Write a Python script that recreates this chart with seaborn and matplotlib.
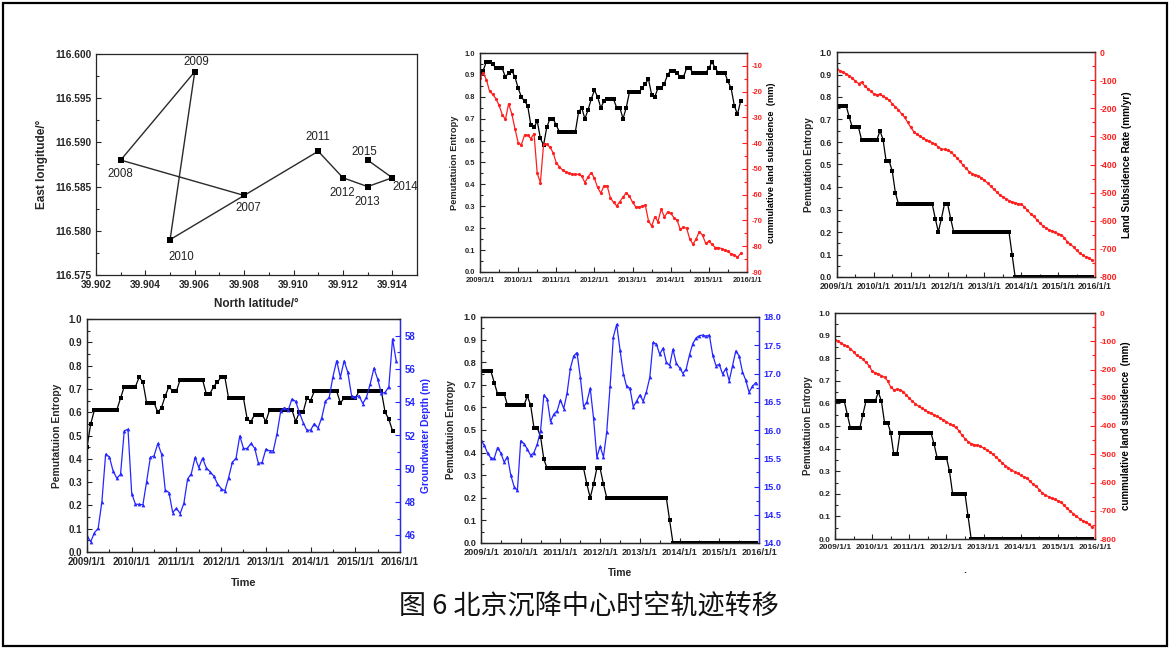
import numpy as np
import pandas as pd
import matplotlib
matplotlib.use("Agg")
import matplotlib.pyplot as plt
from matplotlib.patches import Rectangle
from matplotlib.ticker import MultipleLocator, FormatStrFormatter
import seaborn as sns

# ---------------------------------------------------------------- data
# subsidence-centre trajectory (one point per year)
traj_years = ["2007", "2008", "2009", "2010", "2011", "2012", "2013", "2014", "2015"]
traj_lat = [39.908, 39.903, 39.906, 39.905, 39.911, 39.912, 39.913, 39.914, 39.913]
traj_lon = [116.584, 116.588, 116.598, 116.579, 116.589, 116.586, 116.585, 116.586, 116.588]

year_ticks = ["2009/1/1", "2010/1/1", "2011/1/1", "2012/1/1",
              "2013/1/1", "2014/1/1", "2015/1/1", "2016/1/1"]

# permutation entropy vs cumulative subsidence (monthly, from 2009/1)
pe_cum_a = [0.91, 0.92, 0.96, 0.96, 0.95, 0.93, 0.93, 0.93, 0.89, 0.91,
            0.92, 0.89, 0.84, 0.80, 0.78, 0.76, 0.67, 0.66, 0.69, 0.61,
            0.58, 0.66, 0.70, 0.70, 0.67, 0.64, 0.64, 0.64, 0.64, 0.64,
            0.64, 0.73, 0.75, 0.70, 0.74, 0.79, 0.83, 0.80, 0.75, 0.78,
            0.79, 0.79, 0.79, 0.75, 0.75, 0.70, 0.75, 0.82, 0.82, 0.82,
            0.82, 0.84, 0.86, 0.88, 0.81, 0.80, 0.84, 0.84, 0.86, 0.90,
            0.92, 0.92, 0.91, 0.89, 0.89, 0.93, 0.93, 0.91, 0.91, 0.91,
            0.91, 0.91, 0.93, 0.96, 0.93, 0.91, 0.91, 0.91, 0.87, 0.84,
            0.76, 0.72, 0.78]
sub_cum_a = [-14.7, -12.7, -15.3, -19.8, -21.1, -22.7, -25.3, -28.9, -30.8, -24.7,
             -28.6, -34.4, -39.8, -40.7, -36.9, -36.9, -38.2, -36.3, -51.7, -55.3,
             -40.5, -40.5, -41.5, -43.7, -47.6, -49.2, -50.5, -51.2, -51.7, -52.0,
             -52.1, -52.1, -52.7, -55.3, -53.1, -51.4, -53.6, -57.2, -59.4, -56.6,
             -56.6, -61.1, -63.0, -64.3, -62.7, -60.9, -59.3, -60.5, -63.0, -64.7,
             -64.7, -64.5, -64.0, -70.1, -72.2, -68.6, -70.4, -65.6, -68.6, -66.8,
             -67.2, -68.9, -69.9, -73.4, -72.7, -73.0, -77.2, -79.2, -77.2, -74.3,
             -75.7, -78.9, -78.1, -79.2, -80.5, -80.5, -80.9, -81.5, -82.0, -83.0,
             -83.3, -84.3, -82.8]

# permutation entropy vs subsidence rate
pe_rate = [0.76, 0.76, 0.76, 0.76, 0.71, 0.665, 0.665, 0.665, 0.61, 0.61,
           0.61, 0.61, 0.61, 0.61, 0.65, 0.61, 0.515, 0.515, 0.47, 0.375,
           0.325, 0.325, 0.325, 0.325, 0.325, 0.325, 0.325, 0.325, 0.325, 0.325,
           0.325, 0.325, 0.26, 0.20, 0.26, 0.325, 0.325, 0.26, 0.20, 0.20,
           0.20, 0.20, 0.20, 0.20, 0.20, 0.20, 0.20, 0.20, 0.20, 0.20,
           0.20, 0.20, 0.20, 0.20, 0.20, 0.20, 0.20, 0.10, 0.0, 0.0,
           0.0, 0.0, 0.0, 0.0, 0.0, 0.0, 0.0, 0.0, 0.0, 0.0,
           0.0, 0.0, 0.0, 0.0, 0.0, 0.0, 0.0, 0.0, 0.0, 0.0,
           0.0, 0.0, 0.0, 0.0]
sub_rate = [-62, -66, -72, -78, -84, -93, -104, -112, -108, -120,
            -130, -140, -148, -152, -150, -158, -163, -172, -184, -195,
            -205, -220, -232, -250, -268, -283, -292, -300, -306, -312,
            -318, -322, -328, -338, -345, -346, -350, -356, -365, -376,
            -388, -402, -414, -425, -432, -437, -440, -447, -456, -466,
            -477, -487, -498, -508, -515, -522, -528, -533, -536, -539,
            -542, -550, -563, -575, -584, -596, -608, -618, -626, -632,
            -637, -641, -646, -650, -660, -675, -684, -693, -705, -715,
            -722, -729, -731, -740]

# permutation entropy vs groundwater depth (well A)
pe_gw_a = [0.45, 0.55, 0.61, 0.61, 0.61, 0.61, 0.61, 0.61, 0.61, 0.66,
           0.71, 0.71, 0.71, 0.71, 0.75, 0.73, 0.64, 0.64, 0.64, 0.60,
           0.62, 0.67, 0.71, 0.69, 0.69, 0.74, 0.74, 0.74, 0.74, 0.74,
           0.74, 0.74, 0.68, 0.68, 0.71, 0.73, 0.75, 0.75, 0.66, 0.66,
           0.66, 0.66, 0.66, 0.57, 0.56, 0.59, 0.59, 0.59, 0.56, 0.61,
           0.61, 0.61, 0.61, 0.61, 0.61, 0.61, 0.56, 0.60, 0.60, 0.66,
           0.65, 0.69, 0.69, 0.69, 0.69, 0.69, 0.69, 0.69, 0.64, 0.66,
           0.66, 0.66, 0.66, 0.69, 0.69, 0.69, 0.69, 0.69, 0.69, 0.69,
           0.60, 0.57, 0.52]
gw_depth_a = [45.96, 45.62, 46.16, 46.42, 48.03, 50.88, 50.72, 49.87, 49.43, 49.67,
              52.28, 52.38, 48.51, 47.87, 47.87, 47.83, 49.23, 50.68, 50.78, 51.52,
              50.88, 48.73, 48.57, 47.37, 47.63, 47.31, 47.93, 49.39, 49.71, 50.68,
              50.07, 50.64, 50.07, 49.83, 49.57, 49.11, 48.81, 48.67, 49.47, 50.38,
              50.64, 51.98, 51.22, 51.22, 51.52, 51.24, 50.32, 50.38, 51.18, 51.08,
              51.08, 52.12, 53.48, 53.68, 53.52, 54.19, 54.05, 53.38, 52.78, 52.32,
              52.32, 52.72, 52.44, 53.08, 54.05, 54.29, 55.53, 56.49, 55.49, 56.49,
              55.79, 54.39, 54.29, 54.39, 53.92, 54.29, 55.09, 56.05, 55.39, 54.53,
              54.59, 54.93, 57.80, 56.45]

# permutation entropy vs groundwater depth (well B)
pe_gw_b = [0.76, 0.76, 0.76, 0.76, 0.71, 0.66, 0.66, 0.66, 0.61, 0.61,
           0.61, 0.61, 0.61, 0.61, 0.65, 0.61, 0.51, 0.51, 0.47, 0.37,
           0.33, 0.33, 0.33, 0.33, 0.33, 0.33, 0.33, 0.33, 0.33, 0.33,
           0.33, 0.33, 0.26, 0.20, 0.26, 0.33, 0.33, 0.26, 0.20, 0.20,
           0.20, 0.20, 0.20, 0.20, 0.20, 0.20, 0.20, 0.20, 0.20, 0.20,
           0.20, 0.20, 0.20, 0.20, 0.20, 0.20, 0.20, 0.10, 0.0, 0.0,
           0.0, 0.0, 0.0, 0.0, 0.0, 0.0, 0.0, 0.0, 0.0, 0.0,
           0.0, 0.0, 0.0, 0.0, 0.0, 0.0, 0.0, 0.0, 0.0, 0.0,
           0.0, 0.0, 0.0, 0.0]
gw_depth_b = [15.82, 15.73, 15.59, 15.50, 15.50, 15.69, 15.59, 15.43, 15.53, 15.20,
              15.00, 14.93, 15.81, 15.76, 15.66, 15.55, 15.60, 15.75, 15.99, 16.62,
              16.55, 16.15, 16.28, 16.34, 16.53, 16.38, 16.65, 17.09, 17.31, 17.37,
              16.94, 16.41, 16.50, 16.74, 16.21, 15.52, 15.71, 15.52, 15.97, 16.77,
              17.65, 17.87, 17.42, 17.00, 16.77, 16.74, 16.41, 16.51, 16.62, 16.51,
              16.68, 16.93, 17.55, 17.52, 17.34, 17.45, 17.20, 17.14, 17.43, 17.18,
              17.10, 17.00, 17.08, 17.33, 17.53, 17.63, 17.67, 17.68, 17.66, 17.68,
              17.33, 17.14, 17.16, 16.99, 17.09, 16.87, 17.14, 17.40, 17.31, 17.03,
              16.88, 16.67, 16.77, 16.84]

# permutation entropy vs cumulative subsidence (second point)
pe_cum_b = [0.61, 0.61, 0.61, 0.61, 0.55, 0.49, 0.49, 0.49, 0.49, 0.55,
            0.61, 0.61, 0.61, 0.61, 0.65, 0.61, 0.515, 0.515, 0.47, 0.375,
            0.375, 0.47, 0.47, 0.47, 0.47, 0.47, 0.47, 0.47, 0.47, 0.47,
            0.47, 0.47, 0.42, 0.36, 0.36, 0.36, 0.36, 0.30, 0.20, 0.20,
            0.20, 0.20, 0.20, 0.10, 0.0, 0.0, 0.0, 0.0, 0.0, 0.0,
            0.0, 0.0, 0.0, 0.0, 0.0, 0.0, 0.0, 0.0, 0.0, 0.0,
            0.0, 0.0, 0.0, 0.0, 0.0, 0.0, 0.0, 0.0, 0.0, 0.0,
            0.0, 0.0, 0.0, 0.0, 0.0, 0.0, 0.0, 0.0, 0.0, 0.0,
            0.0, 0.0, 0.0, 0.0]
sub_cum_b = [-94, -100, -107, -113, -118, -126, -138, -150, -155, -163,
             -175, -186, -206, -212, -215, -222, -228, -240, -262, -272,
             -270, -272, -278, -290, -302, -312, -322, -330, -337, -343,
             -350, -355, -360, -366, -372, -378, -385, -392, -398, -405,
             -416, -432, -445, -455, -462, -466, -468, -472, -478, -485,
             -492, -500, -510, -520, -530, -540, -548, -555, -562, -568,
             -575, -580, -584, -596, -606, -614, -625, -638, -645, -650,
             -656, -660, -664, -670, -680, -692, -702, -710, -720, -728,
             -735, -740, -748, -757]

# ---------------------------------------------------------------- style
sns.set_style("ticks")
plt.rcParams["font.family"] = ["Liberation Sans", "DejaVu Sans"]
plt.rcParams["axes.unicode_minus"] = False
plt.rcParams["axes.linewidth"] = 0.9

RED = "#ff1f1f"
BLUE = "#2626ff"
W, H = 1169, 648

fig = plt.figure(figsize=(W / 100, H / 100), dpi=100)
fig.patch.set_facecolor("white")


def box(x0, y0, x1, y1):
    """Axes rectangle from pixel edges (top-left origin)."""
    return [x0 / W, 1 - y1 / H, (x1 - x0) / W, (y1 - y0) / H]


def style_ticks(ax, size):
    ax.tick_params(which="both", direction="in", labelsize=size, width=0.8)
    ax.tick_params(which="major", length=3.5)
    ax.tick_params(which="minor", length=2)
    for lab in ax.get_xticklabels() + ax.get_yticklabels():
        lab.set_fontweight("bold")


# ---------------------------------------------------------------- trajectory
ax1 = fig.add_axes(box(96, 54, 417, 275))
traj = pd.DataFrame({"lat": traj_lat, "lon": traj_lon, "year": traj_years})
# path in chronological order, every yearly centre kept as its own vertex
sns.lineplot(data=traj, x="lat", y="lon", sort=False, estimator=None, ax=ax1,
             color="#2a2a2a", linewidth=1.0, marker="s", markersize=4.2,
             markerfacecolor="black", markeredgecolor="black", markeredgewidth=0)
offsets = {"2007": (4, -13), "2008": (0, -14), "2009": (2, 10), "2010": (11, -17),
           "2011": (0, 14), "2012": (-1, -15), "2013": (0, -15), "2014": (13, -9),
           "2015": (-3, 8)}
for la, lo, yr in zip(traj_lat, traj_lon, traj_years):
    ax1.annotate(yr, (la, lo), xytext=offsets[yr], textcoords="offset pixels",
                 ha="center", va="center", fontsize=8.3, color="#222222")
ax1.set_xlim(39.902, 39.915)
ax1.set_ylim(116.575, 116.600)
ax1.xaxis.set_major_locator(MultipleLocator(0.002))
ax1.xaxis.set_minor_locator(MultipleLocator(0.001))
ax1.yaxis.set_major_locator(MultipleLocator(0.005))
ax1.yaxis.set_minor_locator(MultipleLocator(0.0025))
ax1.xaxis.set_major_formatter(FormatStrFormatter("%.3f"))
ax1.yaxis.set_major_formatter(FormatStrFormatter("%.3f"))
ax1.set_xlabel("North latitude/°", fontsize=8.5, fontweight="bold", labelpad=6)
ax1.set_ylabel("East longitude/°", fontsize=8.5, fontweight="bold", labelpad=5)
style_ticks(ax1, 7.3)


# ---------------------------------------------------------------- time panels
def time_panel(rect, pe, other, color, marker, msize, rlim, rmajor, rminor, rfmt,
               left_label, right_label, xlabel, tsize, lsize, lpad, rpad, xpad):
    ax = fig.add_axes(rect)
    months = np.arange(len(pe))
    sns.lineplot(x=months, y=pe, ax=ax, color="black", linewidth=0.9,
                 marker="s", markersize=2.7, markerfacecolor="black",
                 markeredgecolor="black", markeredgewidth=0)
    ax.set_xlim(0, 84)
    ax.set_ylim(0, 1.0)
    ax.set_xticks(np.arange(0, 85, 12))
    ax.set_xticklabels(year_ticks)
    ax.xaxis.set_minor_locator(MultipleLocator(6))
    ax.yaxis.set_major_locator(MultipleLocator(0.1))
    ax.yaxis.set_minor_locator(MultipleLocator(0.05))
    ax.yaxis.set_major_formatter(FormatStrFormatter("%.1f"))
    ax.set_ylabel(left_label, fontsize=lsize, fontweight="bold", labelpad=lpad)
    if xlabel:
        ax.set_xlabel(xlabel, fontsize=lsize + 0.5, fontweight="bold", labelpad=xpad)
    else:
        ax.set_xlabel("")
    style_ticks(ax, tsize)

    ax2 = ax.twinx()
    sns.lineplot(x=np.arange(len(other)), y=other, ax=ax2, color=color,
                 linewidth=0.9, marker=marker, markersize=msize,
                 markerfacecolor=color, markeredgecolor=color, markeredgewidth=0)
    ax2.set_ylim(*rlim)
    ax2.yaxis.set_major_locator(MultipleLocator(rmajor))
    ax2.yaxis.set_minor_locator(MultipleLocator(rminor))
    ax2.yaxis.set_major_formatter(FormatStrFormatter(rfmt))
    ax2.spines["right"].set_color(color)
    ax2.tick_params(axis="y", which="both", direction="in", colors=color,
                    labelsize=tsize, width=0.8)
    ax2.tick_params(axis="y", which="major", length=3.5)
    ax2.tick_params(axis="y", which="minor", length=2)
    for lab in ax2.get_yticklabels():
        lab.set_fontweight("bold")
    ax2.set_ylabel(right_label, fontsize=lsize, fontweight="bold", labelpad=rpad,
                   color=(BLUE if color == BLUE else "black"))
    return ax, ax2


time_panel(box(480, 53, 747, 272), pe_cum_a, sub_cum_a, RED, "o", 2.3,
           (-90, -5), 10, 5, "%d",
           "Pemutatuion Entropy", "cummulative land subsidence  (mm)", None,
           5.4, 6.7, 4, 3, 4)
time_panel(box(837, 52, 1095, 277), pe_rate, sub_rate, RED, "o", 2.3,
           (-800, 0), 100, 50, "%d",
           "Pemutation Entropy", "Land Subsidence Rate (mm/yr)", None,
           6.2, 7.2, 4, 3, 4)
time_panel(box(87, 319, 400, 552), pe_gw_a, gw_depth_a, BLUE, "^", 2.7,
           (45, 59), 2, 1, "%d",
           "Pemutatuion Entropy", "Groundwater Depth (m)", "Time",
           7.0, 7.4, 5, 4, 8)
time_panel(box(481, 317, 759, 543), pe_gw_b, gw_depth_b, BLUE, "^", 2.7,
           (14, 18), 0.5, 0.25, "%.1f",
           "Pemutatuion Entropy", "", "Time",
           6.6, 7.0, 5, 4, 8)
time_panel(box(835, 313, 1095, 539), pe_cum_b, sub_cum_b, RED, "o", 2.3,
           (-800, 0), 100, 50, "%d",
           "Pemutatuion Entropy", "cummulative land subsidence  (mm)", ".",
           6.0, 7.0, 4, 3, 10)

# ---------------------------------------------------------------- caption and frame
fig.text(589 / W, 1 - 606 / H, "图 6 北京沉降中心时空轨迹转移", ha="center", va="center",
         fontsize=19.5, fontweight="light",
         family=["Noto Sans CJK SC", "DejaVu Sans"], color="#111111")
fig.add_artist(Rectangle((2.5 / W, 2.5 / H), 1 - 5 / W, 1 - 5 / H,
                         transform=fig.transFigure, fill=False,
                         edgecolor="black", linewidth=1.6))

fig.savefig("out.png", dpi=100, facecolor="white")
